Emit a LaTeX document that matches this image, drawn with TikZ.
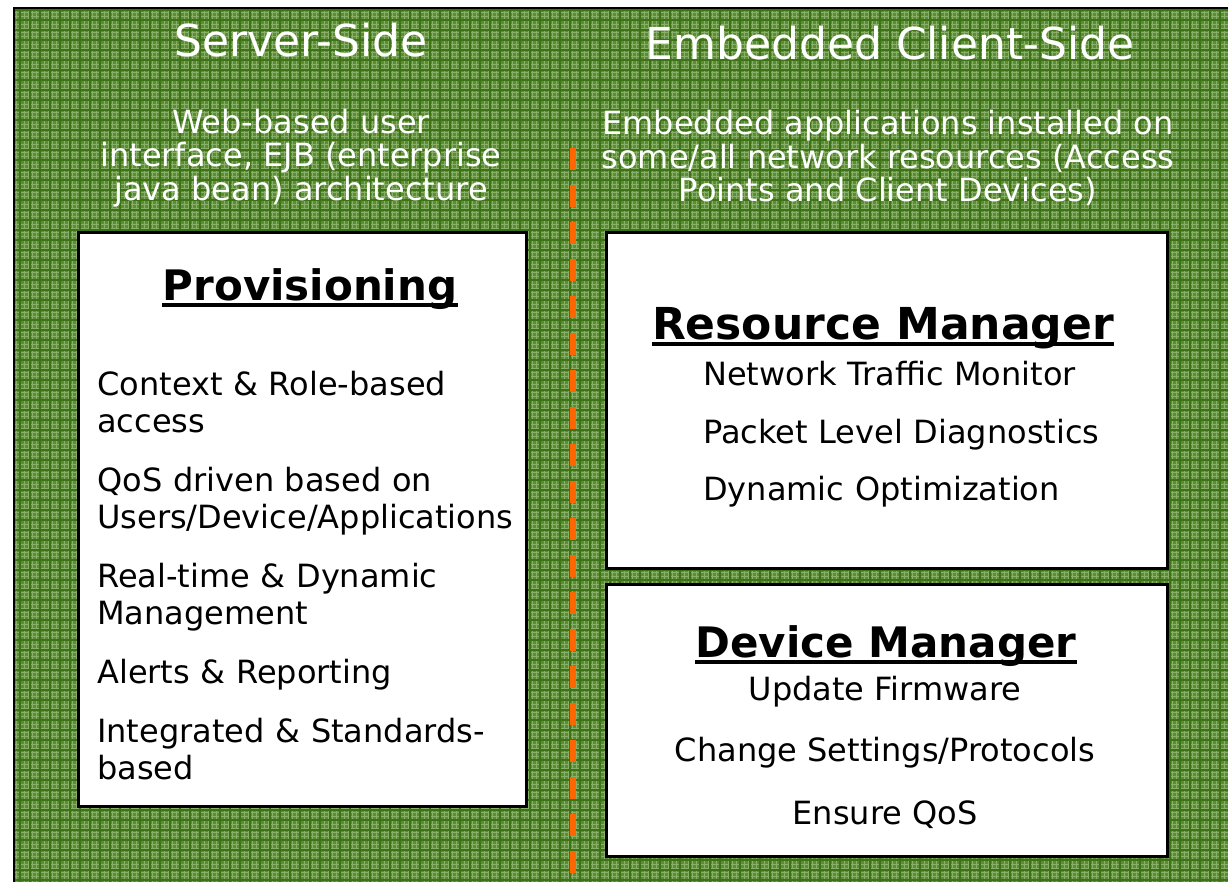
\documentclass[tikz,border=0pt]{standalone}
\usepackage{fontspec}
\setmainfont{DejaVu Sans}
\usepackage{tikz}
\usetikzlibrary{calc,positioning}

\definecolor{bggreen}{RGB}{92,140,56}
\definecolor{bglight}{RGB}{136,176,104}
\definecolor{bgdark}{RGB}{62,114,22}
\definecolor{dashorange}{RGB}{255,102,0}

\tikzset{
  title/.style={text=white, font=\fontsize{33}{38}\selectfont, inner sep=0pt},
  subtitle/.style={text=white, font=\fontsize{24}{25}\selectfont, align=center, inner sep=0pt},
  box/.style={draw=black, line width=2.25pt, fill=white},
  heading/.style={font=\fontsize{31.5}{36}\selectfont\bfseries, inner sep=0pt, anchor=base},
  item/.style={font=\fontsize{24}{28}\selectfont, inner sep=0pt, text width=320pt, align=left, anchor=base west},
  citem/.style={font=\fontsize{24}{28}\selectfont, inner sep=0pt, anchor=base},
  uline/.style={line width=2.6pt},
  divider/.style={dashorange, line width=4pt, dash pattern=on 16.5pt off 11.25pt},
}

\begin{document}
\begin{tikzpicture}[x=0.75pt,y=-0.75pt]
\useasboundingbox (0,0) rectangle (1228,882);

% green background
\fill[bggreen] (14,8) rectangle (1228,882);
\begin{scope}
\clip (14,8) rectangle (1228,882);
\draw[bglight, line width=0.6pt] (14,882) grid[step=3pt] (1228,8);
\draw[bgdark, line width=0.8pt] (14,882) grid[step=7.5pt] (1228,8);
\end{scope}
\draw[line width=1.5pt] (14,882) -- (14,8) -- (1228,8);

% divider
\draw[divider] (573,148) -- (573,882);

% column titles
\node[title] (server) at (301,40) {Server-Side};
\node[title] (client) at (890,43) {Embedded Client-Side};
\node[subtitle] (serverdesc) at (301,158) {Web-based user\\interface, EJB (enterprise\\java bean) architecture};
\node[subtitle] (clientdesc) at (888,158) {Embedded applications installed on\\some/all network resources (Access\\Points and Client Devices)};

% boxes
\draw[box] (78,232) rectangle (526,806);
\draw[box] (606,232) rectangle (1167,568);
\draw[box] (606,584) rectangle (1167,856);

% provisioning
\node[heading] (prov) at (310,300) {Provisioning};
\draw[uline] ($(prov.base west)+(0,5)$) -- ($(prov.base east)+(0,5)$);
\node[item] (ctx) at (97,395) {Context \& Role-based\\access};
\node[item] (qos) at (97,491) {QoS driven based on\\Users/Device/Applications};
\node[item] (rt) at (97,587) {Real-time \& Dynamic\\Management};
\node[item] (alerts) at (97,683) {Alerts \& Reporting};
\node[item] (integ) at (97,742) {Integrated \& Standards-\\based};

% resource manager
\node[heading, font=\fontsize{33}{36}\selectfont\bfseries] (res) at (883,339) {Resource Manager};
\draw[uline] ($(res.base west)+(0,5)$) -- ($(res.base east)+(0,5)$);
\node[item] (traffic) at (703,385) {Network Traffic Monitor};
\node[item] (packet) at (703,443) {Packet Level Diagnostics};
\node[item] (dyn) at (703,500) {Dynamic Optimization};

% device manager
\node[heading] (dev) at (886,657) {Device Manager};
\draw[uline] ($(dev.base west)+(0,5)$) -- ($(dev.base east)+(0,5)$);
\node[citem] (firm) at (885,700) {Update Firmware};
\node[citem] (settings) at (885,761) {Change Settings/Protocols};
\node[citem] (ensure) at (885,824) {Ensure QoS};

\end{tikzpicture}
\end{document}
